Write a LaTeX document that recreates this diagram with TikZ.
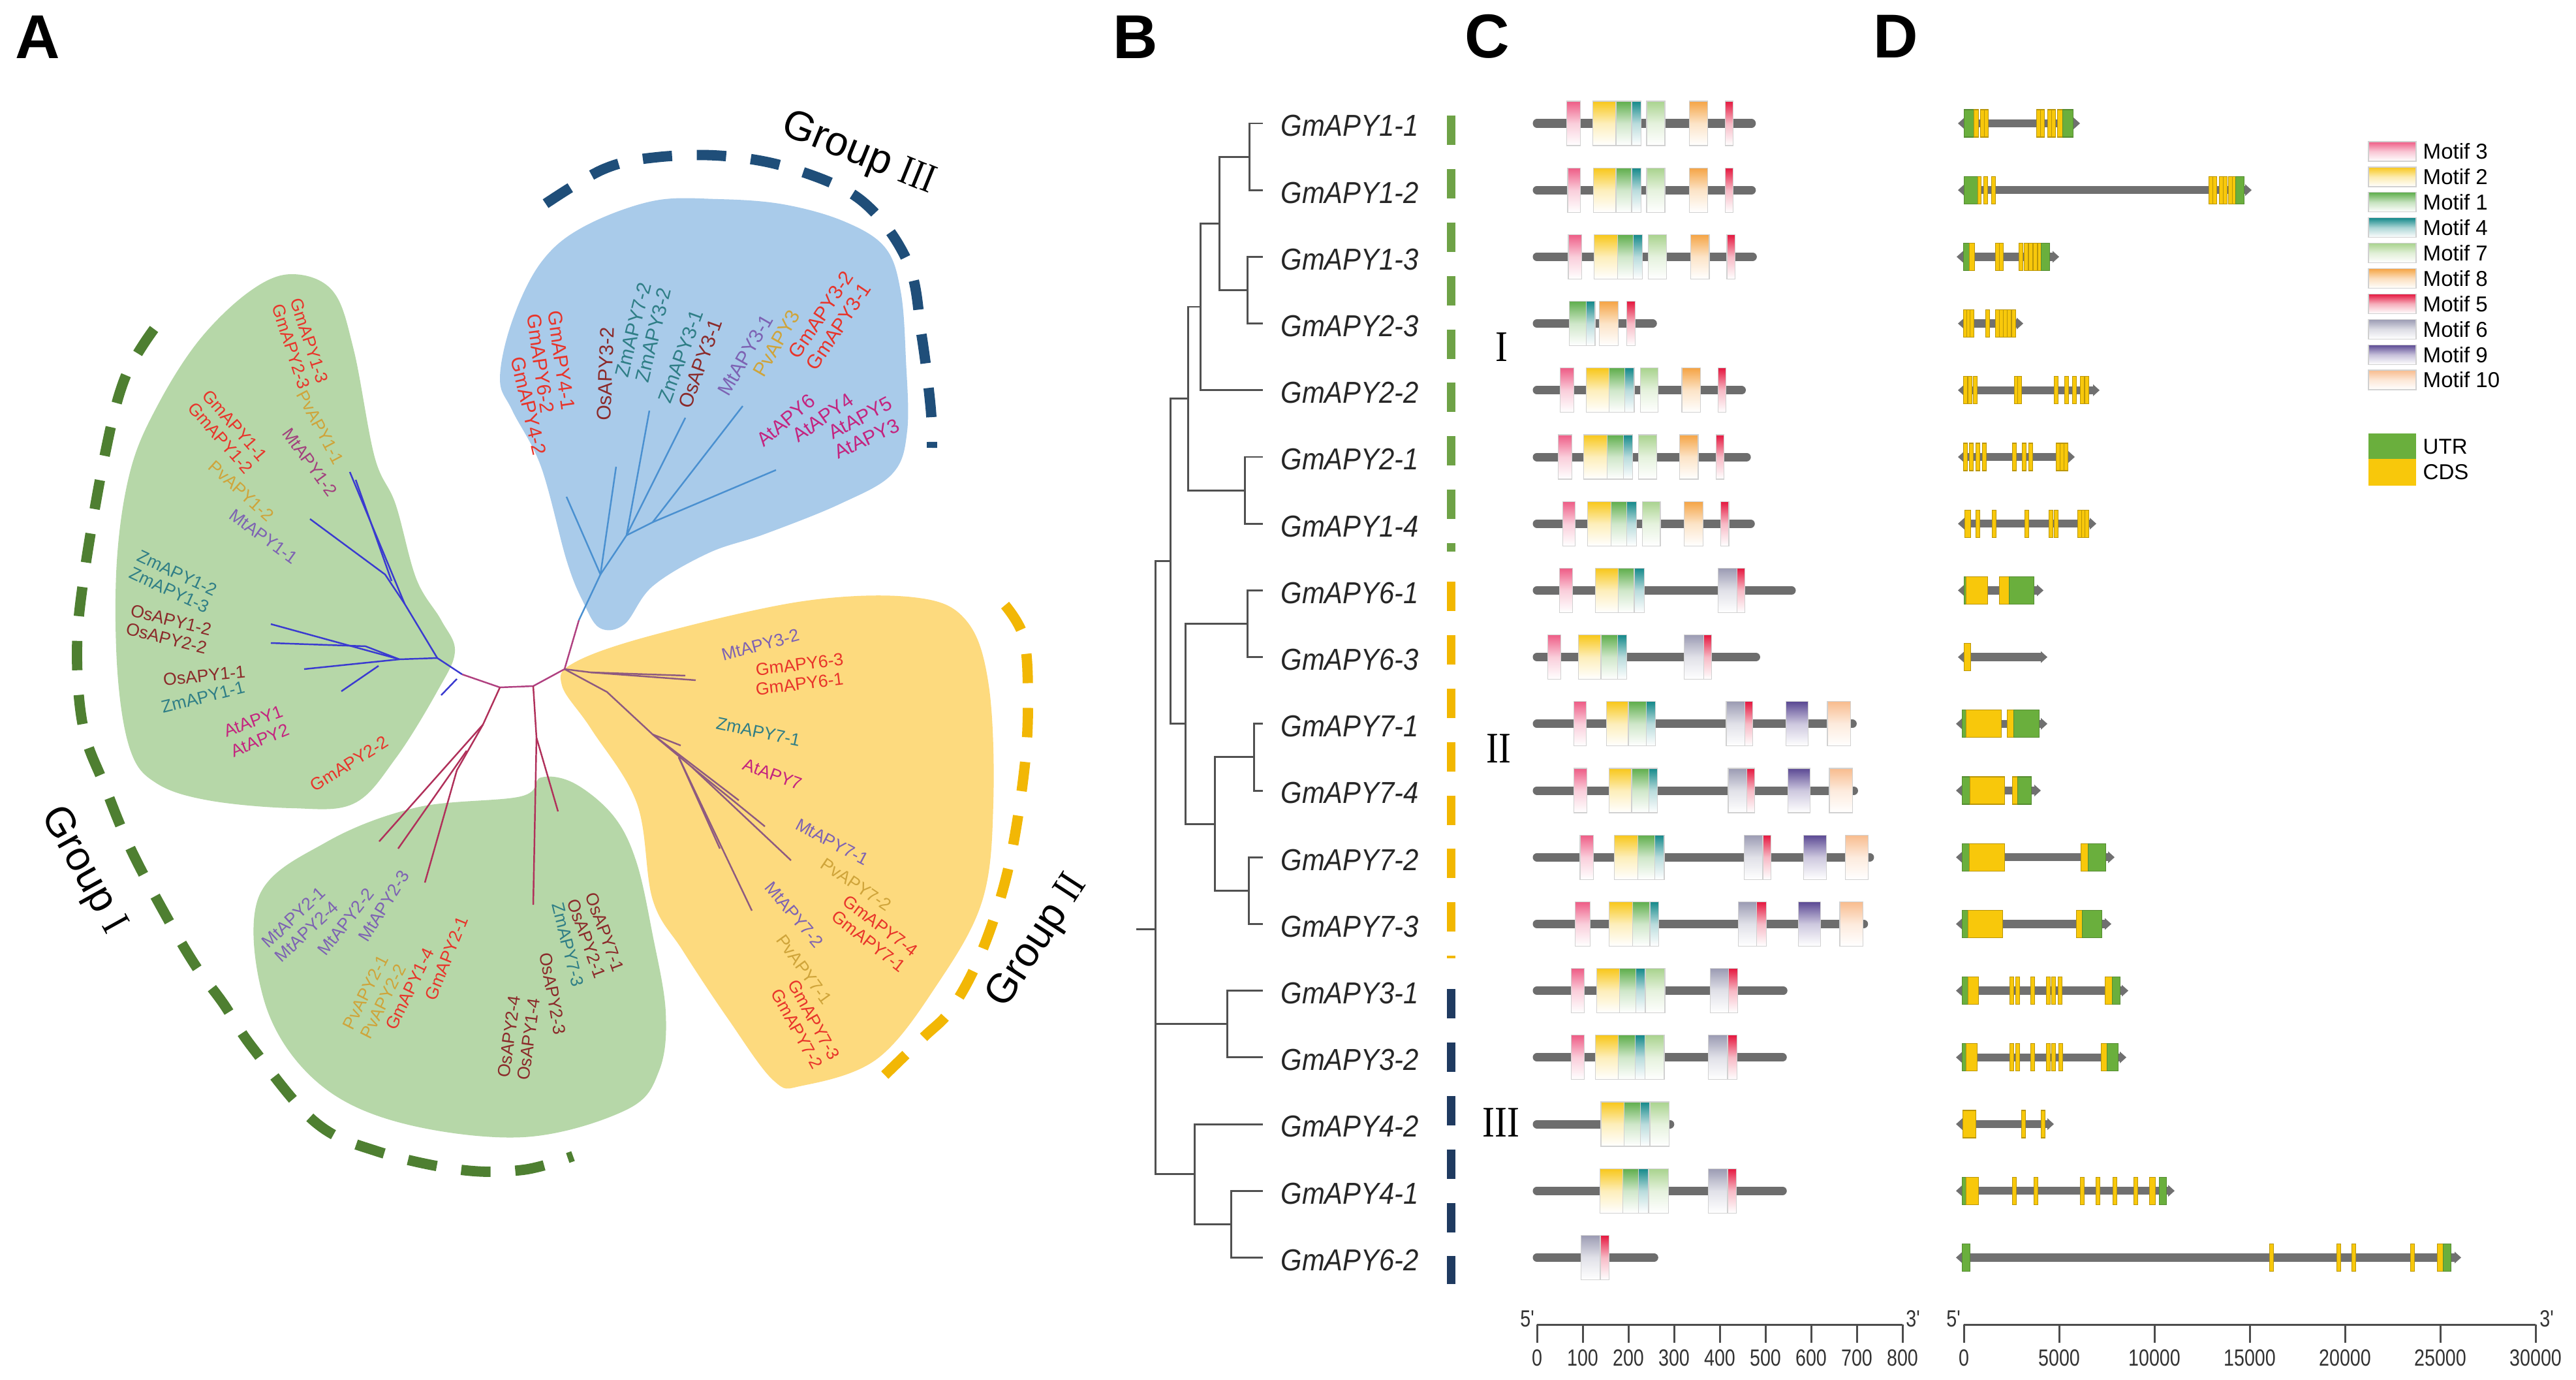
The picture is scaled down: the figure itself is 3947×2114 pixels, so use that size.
\documentclass[tikz,border=0pt]{standalone}
\usepackage{fontspec}
\setmainfont{Liberation Sans}
\newfontfamily\tfont[FakeStretch=0.9]{Liberation Sans}
\newfontfamily\axfont[FakeStretch=0.8]{Liberation Sans}
\newfontfamily\romfont[FakeStretch=0.85]{Liberation Serif}
\definecolor{blobG}{HTML}{B6D7A8}
\definecolor{blobB}{HTML}{A9CBEA}
\definecolor{blobY}{HTML}{FDDA7E}
\definecolor{arcG}{HTML}{4E7F31}
\definecolor{arcY}{HTML}{F2B705}
\definecolor{arcB}{HTML}{1F4E79}
\definecolor{cGm}{HTML}{E8342A}
\definecolor{cPv}{HTML}{CFA43A}
\definecolor{cMt}{HTML}{7D62B3}
\definecolor{cMtb}{HTML}{A2407E}
\definecolor{cZm}{HTML}{2F7E86}
\definecolor{cOs}{HTML}{8B2A2A}
\definecolor{cAt}{HTML}{C4247F}
\definecolor{brBlue}{HTML}{3A3AD0}
\definecolor{brRed}{HTML}{B0305A}
\definecolor{brMauve}{HTML}{8E5A80}
\definecolor{brSky}{HTML}{4A90D0}
\definecolor{brHub}{HTML}{B04080}
\definecolor{treeGray}{HTML}{505050}
\definecolor{barG}{HTML}{6EA246}
\definecolor{barY}{HTML}{F2B700}
\definecolor{barN}{HTML}{1F3A60}
\definecolor{protGray}{HTML}{6D6D6D}
\definecolor{geneGray}{HTML}{707070}
\definecolor{m3}{HTML}{EE5C86}
\definecolor{m2}{HTML}{F8C71A}
\definecolor{m1}{HTML}{5FAE4C}
\definecolor{m4}{HTML}{14898A}
\definecolor{m7}{HTML}{A9D38E}
\definecolor{m8}{HTML}{F5A445}
\definecolor{m5}{HTML}{E5173F}
\definecolor{m6}{HTML}{9B9BB3}
\definecolor{m9}{HTML}{5A4893}
\definecolor{m10}{HTML}{F8BC8E}
\definecolor{utrG}{HTML}{6AAF3D}
\definecolor{cdsY}{HTML}{F8C80B}
\newcommand\prot[2]{\draw[protline] (2355,{189+102.2*#1}) -- ({2300+0.5102*#2-6.5},{189+102.2*#1});}
\newcommand\mtf[4]{\path[mbox, top color=#4, bottom color=white, middle color=#4!30!white] ({2300+0.5102*#2},{189+102.2*#1-34}) rectangle ({2300+0.5102*#3},{189+102.2*#1+34});}
\newcommand\gene[3]{\draw[geneline] (#2,{189+102.2*#1}) -- (#3,{189+102.2*#1});
 \fill[geneGray] ({#2-9},{189+102.2*#1}) -- ({#2+1},{189+102.2*#1-9}) -- ({#2+1},{189+102.2*#1+9}) -- cycle;
 \fill[geneGray] ({#3+9},{189+102.2*#1}) -- ({#3-1},{189+102.2*#1-9}) -- ({#3-1},{189+102.2*#1+9}) -- cycle;}
\newcommand\utr[3]{\path[fill=utrG, draw=utrG!80!black, line width=0.3pt] (#2,{189+102.2*#1-21}) rectangle (#3,{189+102.2*#1+21});}
\newcommand\cds[3]{\path[fill=cdsY, draw=cdsY!75!black, line width=0.3pt] (#2,{189+102.2*#1-21}) rectangle (#3,{189+102.2*#1+21});}
\newcommand\thn[2]{\cds{#1}{#2-3}{#2+3}}
\begin{document}
\begin{tikzpicture}[x=0.1mm,y=-0.1mm,
  treeline/.style={draw=treeGray, line width=0.85pt},
  blab/.style={font=\tfont\itshape\fontsize{13.2}{14}\selectfont, text=black!85, inner sep=0pt, anchor=west},
  alab/.style={font=\fontsize{7.6}{8}\selectfont, inner sep=0pt},
  alabb/.style={font=\fontsize{8.6}{9}\selectfont, inner sep=0pt},
  panel/.style={font=\bfseries\fontsize{27}{30}\selectfont, inner sep=0pt},
  grp/.style={font=\fontsize{18}{20}\selectfont, inner sep=0pt},
  protline/.style={draw=protGray, line width=3.7pt, line cap=round},
  mbox/.style={draw=black!18, line width=0.35pt},
  geneline/.style={draw=geneGray, line width=3.5pt},
  arcline/.style={line width=4.5pt, dash pattern=on 12.8pt off 10.8pt},
  axisline/.style={draw=black!70, line width=0.85pt},
  axlab/.style={font=\axfont\fontsize{10.2}{11}\selectfont, text=black!80, inner sep=0pt},
  leglab/.style={font=\fontsize{9.4}{10}\selectfont, anchor=west, inner sep=0pt},
  roman/.style={font=\romfont\fontsize{19}{20}\selectfont, inner sep=0pt},
  br/.style={line width=0.7pt}]
\useasboundingbox (0,0) rectangle (3947,2114);
\fill[white] (0,0) rectangle (3947,2114);
% ---------------- panel letters
\node[panel] (pA) at (58,57) {A};
\node[panel] (pB) at (1740,57) {B};
\node[panel] (pC) at (2279,56) {C};
\node[panel] (pD) at (2905,56) {D};
% ---------------- panel A blobs
\fill[blobG] plot[smooth cycle, tension=0.6] coordinates {(447,420) (510,446) (542,536) (574,700) (606,772) (638,887) (676,950) (697,998) (670,1059) (606,1162) (542,1231) (447,1238) (319,1226) (240,1200) (200,1150) (180,1030) (179,860) (200,720) (242,620) (306,520) (383,446)};
\fill[blobB] plot[smooth cycle, tension=0.6] coordinates {(766,580) (785,491) (829,402) (893,348) (1000,308) (1100,305) (1200,313) (1293,339) (1356,379) (1380,446) (1388,550) (1390,660) (1367,726) (1287,772) (1172,818) (1086,847) (1000,898) (957,956) (919,962) (893,921) (868,858) (829,715) (785,629)};
\fill[blobY] plot[smooth cycle, tension=0.6] coordinates {(880,1015) (1000,973) (1230,921) (1400,915) (1480,950) (1515,1050) (1522,1230) (1505,1380) (1436,1508) (1344,1622) (1230,1663) (1185,1655) (1115,1560) (1046,1456) (1000,1378) (976,1231) (906,1117) (861,1050)};
\fill[blobG] plot[smooth cycle, tension=0.6] coordinates {(396,1375) (500,1290) (638,1237) (798,1220) (829,1191) (880,1200) (940,1250) (975,1320) (1000,1432) (1020,1550) (1010,1640) (960,1700) (802,1742) (610,1719) (483,1655) (406,1537)};
% ---------------- dashed arcs
\draw[arcline, arcG] plot[smooth, tension=0.6] coordinates {(236,504) (191,580) (160,700) (128,887) (118,1002) (128,1117) (160,1203) (200,1300) (255,1404) (300,1480) (342,1537) (387,1605) (483,1719) (579,1764) (706,1792) (802,1792) (878,1771)};
\draw[arcline, arcY] plot[smooth, tension=0.6] coordinates {(1540,927) (1568,975) (1575,1059) (1570,1174) (1545,1330) (1505,1456) (1459,1544) (1413,1591) (1339,1663)};
\draw[arcline, arcB] plot[smooth, tension=0.6] coordinates {(836,312) (925,259) (1005,241) (1110,239) (1216,259) (1321,308) (1391,402) (1412,513) (1426,625) (1428,686)};
% ---------------- branches
\draw[br, brHub] (708,1033) -- (766,1053) -- (817,1051) -- (865,1025) -- (887,950);
\draw[br, brBlue] (708,1033) -- (670,1008) -- (620,925) -- (536,723);
\draw[br, brBlue] (620,925) -- (590,880) -- (475,795);
\draw[br, brBlue] (600,890) -- (545,735);
\draw[br, brBlue] (670,1008) -- (612,1010) -- (415,956);
\draw[br, brBlue] (612,1010) -- (560,990) -- (415,985);
\draw[br, brBlue] (612,1010) -- (466,1025);
\draw[br, brBlue] (580,1020) -- (523,1059);
\draw[br, brBlue] (700,1040) -- (676,1065);
\draw[br, brRed] (766,1053) -- (740,1110) -- (581,1289);
\draw[br, brRed] (740,1110) -- (700,1180) -- (651,1352);
\draw[br, brRed] (715,1150) -- (610,1300);
\draw[br, brRed] (817,1051) -- (822,1130) -- (817,1386);
\draw[br, brRed] (822,1130) -- (855,1243);
\draw[br, brMauve] (865,1025) -- (905,1030) -- (1066,1042);
\draw[br, brMauve] (905,1030) -- (1050,1035);
\draw[br, brMauve] (865,1025) -- (930,1060) -- (1000,1125);
\draw[br, brMauve] (1000,1125) -- (1043,1142);
\draw[br, brMauve] (1000,1125) -- (1132,1226);
\draw[br, brMauve] (1000,1125) -- (1060,1175) -- (1212,1318);
\draw[br, brMauve] (1060,1175) -- (1172,1266);
\draw[br, brMauve] (1040,1160) -- (1152,1395);
\draw[br, brMauve] (1040,1160) -- (1103,1300);
\draw[br, brSky] (887,950) -- (920,880) -- (944,715);
\draw[br, brSky] (920,880) -- (868,761);
\draw[br, brSky] (920,880) -- (960,820) -- (995,629);
\draw[br, brSky] (960,820) -- (1000,800) -- (1189,720);
\draw[br, brSky] (1000,800) -- (1138,622);
\draw[br, brSky] (960,820) -- (1050,640);
% ---------------- panel A labels
\node[alab, cGm, rotate=-72] (a01) at (474,522) {GmAPY1-3};
\node[alab, cGm, rotate=-72] (a02) at (446,531) {GmAPY2-3};
\node[alab, cPv, rotate=-62] (a03) at (491,655) {PvAPY1-1};
\node[alab, cMtb, rotate=-54] (a04) at (475,708) {MtAPY1-2};
\node[alab, cGm, rotate=-49] (a05) at (360,652) {GmAPY1-1};
\node[alab, cGm, rotate=-49] (a06) at (338,671) {GmAPY1-2};
\node[alab, cPv, rotate=-42] (a07) at (370,752) {PvAPY1-2};
\node[alab, cMt, rotate=-36] (a08) at (404,822) {MtAPY1-1};
\node[alab, cZm, rotate=-25] (a09) at (272,878) {ZmAPY1-2};
\node[alab, cZm, rotate=-25] (a10) at (260,904) {ZmAPY1-3};
\node[alab, cOs, rotate=-14] (a11) at (262,950) {OsAPY1-2};
\node[alab, cOs, rotate=-14] (a12) at (255,978) {OsAPY2-2};
\node[alab, cOs, rotate=6] (a13) at (313,1035) {OsAPY1-1};
\node[alab, cZm, rotate=14] (a14) at (311,1068) {ZmAPY1-1};
\node[alab, cAt, rotate=20] (a15) at (388,1105) {AtAPY1};
\node[alab, cAt, rotate=22] (a16) at (398,1134) {AtAPY2};
\node[alab, cGm, rotate=32] (a17) at (535,1170) {GmAPY2-2};
\node[alab, cMt, rotate=43] (a18) at (450,1405) {MtAPY2-1};
\node[alab, cMt, rotate=43] (a19) at (470,1427) {MtAPY2-4};
\node[alab, cMt, rotate=52] (a20) at (530,1412) {MtAPY2-2};
\node[alab, cMt, rotate=58] (a21) at (588,1388) {MtAPY2-3};
\node[alab, cPv, rotate=63] (a22) at (560,1520) {PvAPY2-1};
\node[alab, cPv, rotate=63] (a23) at (587,1534) {PvAPY2-2};
\node[alab, cGm, rotate=64] (a24) at (628,1515) {GmAPY1-4};
\node[alab, cGm, rotate=68] (a25) at (684,1468) {GmAPY2-1};
\node[alab, cOs, rotate=-70] (a26) at (927,1428) {OsAPY7-1};
\node[alab, cOs, rotate=-70] (a27) at (899,1438) {OsAPY2-1};
\node[alab, cZm, rotate=-76] (a28) at (870,1447) {ZmAPY7-3};
\node[alab, cOs, rotate=-80] (a29) at (847,1522) {OsAPY2-3};
\node[alab, cOs, rotate=82] (a30) at (780,1588) {OsAPY2-4};
\node[alab, cOs, rotate=82] (a31) at (810,1592) {OsAPY1-4};
\node[alab, cMt, rotate=15] (a32) at (1165,988) {MtAPY3-2};
\node[alab, cGm, rotate=7] (a33) at (1225,1018) {GmAPY6-3};
\node[alab, cGm, rotate=7] (a34) at (1225,1048) {GmAPY6-1};
\node[alab, cZm, rotate=-12] (a35) at (1162,1121) {ZmAPY7-1};
\node[alab, cAt, rotate=-20] (a36) at (1184,1186) {AtAPY7};
\node[alab, cMt, rotate=-28] (a37) at (1275,1290) {MtAPY7-1};
\node[alab, cPv, rotate=-34] (a38) at (1312,1355) {PvAPY7-2};
\node[alab, cGm, rotate=-37] (a39) at (1349,1418) {GmAPY7-4};
\node[alab, cGm, rotate=-38] (a40) at (1331,1442) {GmAPY7-1};
\node[alab, cMt, rotate=-50] (a41) at (1217,1401) {MtAPY7-2};
\node[alab, cPv, rotate=-54] (a42) at (1232,1485) {PvAPY7-1};
\node[alab, cGm, rotate=-61] (a43) at (1247,1562) {GmAPY7-3};
\node[alab, cGm, rotate=-61] (a44) at (1221,1576) {GmAPY7-2};
\node[alabb, cGm, rotate=-82] (a45) at (860,552) {GmAPY4-1};
\node[alabb, cGm, rotate=-82] (a46) at (828,557) {GmAPY6-2};
\node[alabb, cGm, rotate=-77] (a47) at (810,622) {GmAPY4-2};
\node[alabb, cOs, rotate=88] (a48) at (928,573) {OsAPY3-2};
\node[alabb, cZm, rotate=76] (a49) at (970,505) {ZmAPY7-2};
\node[alabb, cZm, rotate=76] (a50) at (1001,513) {ZmAPY3-2};
\node[alabb, cZm, rotate=70] (a51) at (1043,546) {ZmAPY3-1};
\node[alabb, cOs, rotate=70] (a52) at (1073,557) {OsAPY3-1};
\node[alabb, cMt, rotate=60] (a53) at (1142,544) {MtAPY3-1};
\node[alabb, cPv, rotate=60] (a54) at (1190,526) {PvAPY3};
\node[alabb, cGm, rotate=56] (a55) at (1258,482) {GmAPY3-2};
\node[alabb, cGm, rotate=56] (a56) at (1285,500) {GmAPY3-1};
\node[alabb, cAt, rotate=40] (a57) at (1204,644) {AtAPY6};
\node[alabb, cAt, rotate=35] (a58) at (1261,640) {AtAPY4};
\node[alabb, cAt, rotate=28] (a59) at (1318,640) {AtAPY5};
\node[alabb, cAt, rotate=25] (a60) at (1328,672) {AtAPY3};
% group labels
\node[grp, rotate=-22] (g3) at (1315,236) {Group {\romfont III}};
\node[grp, rotate=-61] (g1) at (127,1333) {Group {\romfont I}};
\node[grp, rotate=57] (g2) at (1590,1442) {Group {\romfont II}};
% ---------------- panel B tree
\foreach \i/\nm in {0/GmAPY1-1,1/GmAPY1-2,2/GmAPY1-3,3/GmAPY2-3,4/GmAPY2-2,5/GmAPY2-1,6/GmAPY1-4,7/GmAPY6-1,8/GmAPY6-3,9/GmAPY7-1,10/GmAPY7-4,11/GmAPY7-2,12/GmAPY7-3,13/GmAPY3-1,14/GmAPY3-2,15/GmAPY4-2,16/GmAPY4-1,17/GmAPY6-2}{
  \coordinate (t\i) at (1935,{189+102.2*\i});
  \node[blab] (lb\i) at (1962,{193+102.2*\i}) {\nm};
}
\coordinate (n01) at (1914,240.1);
\coordinate (n23) at (1911,444.5);
\coordinate (nA) at (1868,342.3);
\coordinate (nB) at (1839,470);
\coordinate (n56) at (1907,751.1);
\coordinate (nC) at (1820,610.6);
\coordinate (n78) at (1911,955.5);
\coordinate (n910) at (1921,1159.9);
\coordinate (n1112) at (1913,1364.3);
\coordinate (nG) at (1861,1262.1);
\coordinate (nF) at (1816,1108.8);
\coordinate (nD) at (1793,859.7);
\coordinate (n1314) at (1880,1568.7);
\coordinate (n1617) at (1886,1875.3);
\coordinate (nH) at (1830,1798.7);
\coordinate (root) at (1770,1423);
\coordinate (rootstub) at (1741,1423);
\draw[treeline] (t0) -| (n01) |- (t1);
\draw[treeline] (t2) -| (n23) |- (t3);
\draw[treeline] (n01) -| (nA) |- (n23);
\draw[treeline] (nA) -| (nB) |- (t4);
\draw[treeline] (t5) -| (n56) |- (t6);
\draw[treeline] (nB) -| (nC) |- (n56);
\draw[treeline] (t7) -| (n78) |- (t8);
\draw[treeline] (t9) -| (n910) |- (t10);
\draw[treeline] (t11) -| (n1112) |- (t12);
\draw[treeline] (n910) -| (nG) |- (n1112);
\draw[treeline] (n78) -| (nF) |- (nG);
\draw[treeline] (nC) -| (nD) |- (nF);
\draw[treeline] (t13) -| (n1314) |- (t14);
\draw[treeline] (t16) -| (n1617) |- (t17);
\draw[treeline] (t15) -| (nH) |- (n1617);
\draw[treeline] (nD) -| (root) |- (nH);
\draw[treeline] (n1314) -- (root |- n1314);
\draw[treeline] (root) -- (rootstub);
% group bars
\draw[barG, line width=3.7pt, dash pattern=on 12.8pt off 10.5pt] (2223,177) -- (2223,845);
\draw[barY, line width=3.7pt, dash pattern=on 12.8pt off 10.5pt] (2223,891) -- (2223,1468);
\draw[barN, line width=3.7pt, dash pattern=on 12.8pt off 10.5pt] (2223,1515) -- (2223,1967);
\node[roman] (rI) at (2301,532) {I};
\node[roman] (rII) at (2296,1147) {II};
\node[roman] (rIII) at (2300,1720) {III};
% ---------------- panel C motifs
\prot{0}{765}\mtf{0}{197}{238}{m3}\mtf{0}{275}{345}{m2}\mtf{0}{345}{392}{m1}\mtf{0}{392}{420}{m4}\mtf{0}{437}{492}{m7}\mtf{0}{565}{620}{m8}\mtf{0}{673}{697}{m5}
\prot{1}{765}\mtf{1}{200}{238}{m3}\mtf{1}{278}{345}{m2}\mtf{1}{345}{392}{m1}\mtf{1}{392}{420}{m4}\mtf{1}{437}{492}{m7}\mtf{1}{565}{620}{m8}\mtf{1}{673}{697}{m5}
\prot{2}{768}\mtf{2}{202}{242}{m3}\mtf{2}{280}{350}{m2}\mtf{2}{350}{397}{m1}\mtf{2}{397}{425}{m4}\mtf{2}{442}{497}{m7}\mtf{2}{570}{625}{m8}\mtf{2}{678}{702}{m5}
\prot{3}{468}\mtf{3}{205}{255}{m1}\mtf{3}{255}{282}{m4}\mtf{3}{295}{352}{m8}\mtf{3}{378}{403}{m5}
\prot{4}{735}\mtf{4}{178}{218}{m3}\mtf{4}{255}{325}{m2}\mtf{4}{325}{372}{m1}\mtf{4}{372}{400}{m4}\mtf{4}{418}{472}{m7}\mtf{4}{543}{598}{m8}\mtf{4}{652}{675}{m5}
\prot{5}{750}\mtf{5}{172}{212}{m3}\mtf{5}{248}{318}{m2}\mtf{5}{318}{367}{m1}\mtf{5}{367}{395}{m4}\mtf{5}{412}{467}{m7}\mtf{5}{536}{592}{m8}\mtf{5}{646}{670}{m5}
\prot{6}{762}\mtf{6}{185}{222}{m3}\mtf{6}{260}{330}{m2}\mtf{6}{330}{377}{m1}\mtf{6}{377}{407}{m4}\mtf{6}{424}{478}{m7}\mtf{6}{550}{606}{m8}\mtf{6}{660}{684}{m5}
\prot{7}{885}\mtf{7}{175}{215}{m3}\mtf{7}{283}{352}{m2}\mtf{7}{352}{400}{m1}\mtf{7}{400}{430}{m4}\mtf{7}{652}{708}{m6}\mtf{7}{708}{732}{m5}
\prot{8}{778}\mtf{8}{140}{180}{m3}\mtf{8}{232}{300}{m2}\mtf{8}{300}{350}{m1}\mtf{8}{350}{378}{m4}\mtf{8}{550}{608}{m6}\mtf{8}{608}{632}{m5}
\prot{9}{1068}\mtf{9}{218}{256}{m3}\mtf{9}{317}{382}{m2}\mtf{9}{382}{436}{m1}\mtf{9}{436}{464}{m4}\mtf{9}{676}{732}{m6}\mtf{9}{732}{756}{m5}\mtf{9}{855}{922}{m9}\mtf{9}{980}{1050}{m10}
\prot{10}{1072}\mtf{10}{218}{257}{m3}\mtf{10}{324}{392}{m2}\mtf{10}{392}{444}{m1}\mtf{10}{444}{470}{m4}\mtf{10}{682}{738}{m6}\mtf{10}{738}{762}{m5}\mtf{10}{862}{928}{m9}\mtf{10}{986}{1055}{m10}
\prot{11}{1120}\mtf{11}{237}{278}{m3}\mtf{11}{340}{410}{m2}\mtf{11}{410}{462}{m1}\mtf{11}{462}{490}{m4}\mtf{11}{730}{786}{m6}\mtf{11}{786}{810}{m5}\mtf{11}{908}{977}{m9}\mtf{11}{1034}{1103}{m10}
\prot{12}{1102}\mtf{12}{222}{267}{m3}\mtf{12}{325}{395}{m2}\mtf{12}{395}{447}{m1}\mtf{12}{447}{474}{m4}\mtf{12}{712}{768}{m6}\mtf{12}{768}{796}{m5}\mtf{12}{893}{960}{m9}\mtf{12}{1017}{1087}{m10}
\prot{13}{860}\mtf{13}{210}{250}{m3}\mtf{13}{287}{355}{m2}\mtf{13}{355}{405}{m1}\mtf{13}{405}{433}{m4}\mtf{13}{433}{492}{m7}\mtf{13}{628}{683}{m6}\mtf{13}{683}{710}{m5}
\prot{14}{858}\mtf{14}{210}{250}{m3}\mtf{14}{283}{352}{m2}\mtf{14}{352}{402}{m1}\mtf{14}{402}{432}{m4}\mtf{14}{432}{490}{m7}\mtf{14}{623}{680}{m6}\mtf{14}{680}{708}{m5}
\prot{15}{520}\mtf{15}{300}{370}{m2}\mtf{15}{370}{418}{m1}\mtf{15}{418}{447}{m4}\mtf{15}{447}{505}{m7}
\prot{16}{858}\mtf{16}{297}{365}{m2}\mtf{16}{365}{413}{m1}\mtf{16}{413}{443}{m4}\mtf{16}{443}{503}{m7}\mtf{16}{622}{680}{m6}\mtf{16}{680}{706}{m5}
\prot{17}{472}\mtf{17}{240}{298}{m6}\mtf{17}{298}{325}{m5}
% C axis
\draw[axisline] (2355,2029) -- (2915,2029);
\foreach \k/\t in {0/0,1/100,2/200,3/300,4/400,5/500,6/600,7/700,8/800}{
  \draw[axisline] ({2355+70*\k},2029) -- ({2355+70*\k},2057);
  \node[axlab] (cx\k) at ({2355+70*\k},2080) {\t};
}
\node[axlab] (c5) at (2340,2020) {5'};
\node[axlab] (c3) at (2931,2020) {3'};
% ---------------- panel D genes
\gene{0}{3009}{3178}\utr{0}{3009}{3024}\cds{0}{3024}{3031}\thn{0}{3037}\thn{0}{3043}\thn{0}{3123}\thn{0}{3129}\thn{0}{3140}\thn{0}{3146}\cds{0}{3152}{3160}\utr{0}{3160}{3176}
\gene{1}{3009}{3441}\utr{1}{3009}{3030}\cds{1}{3030}{3035}\thn{1}{3042}\thn{1}{3054}\thn{1}{3387}\thn{1}{3393}\thn{1}{3403}\thn{1}{3409}\thn{1}{3417}\cds{1}{3420}{3425}\utr{1}{3425}{3438}
\gene{2}{3007}{3146}\utr{2}{3008}{3017}\cds{2}{3017}{3025}\thn{2}{3060}\thn{2}{3066}\thn{2}{3096}\thn{2}{3104}\thn{2}{3111}\thn{2}{3118}\cds{2}{3122}{3127}\utr{2}{3127}{3140}
\gene{3}{3009}{3091}\thn{3}{3011}\thn{3}{3016}\thn{3}{3021}\thn{3}{3045}\thn{3}{3060}\thn{3}{3066}\thn{3}{3072}\thn{3}{3078}\thn{3}{3085}
\gene{4}{3009}{3208}\thn{4}{3011}\thn{4}{3018}\thn{4}{3026}\thn{4}{3089}\thn{4}{3094}\thn{4}{3150}\thn{4}{3166}\thn{4}{3178}\thn{4}{3190}\thn{4}{3197}
\gene{5}{3009}{3170}\thn{5}{3011}\thn{5}{3020}\thn{5}{3030}\thn{5}{3040}\thn{5}{3086}\thn{5}{3101}\thn{5}{3111}\thn{5}{3153}\thn{5}{3159}\thn{5}{3165}
\gene{6}{3009}{3203}\cds{6}{3010}{3019}\thn{6}{3030}\thn{6}{3055}\thn{6}{3105}\thn{6}{3142}\thn{6}{3150}\thn{6}{3186}\thn{6}{3192}\thn{6}{3197}
\gene{7}{3009}{3122}\utr{7}{3009}{3012}\cds{7}{3012}{3045}\cds{7}{3063}{3078}\utr{7}{3078}{3116}
\gene{8}{3009}{3128}\cds{8}{3009}{3019}
\gene{9}{3006}{3128}\utr{9}{3006}{3012}\cds{9}{3012}{3066}\cds{9}{3075}{3085}\utr{9}{3085}{3124}
\gene{10}{3006}{3118}\utr{10}{3006}{3018}\cds{10}{3018}{3071}\cds{10}{3083}{3091}\utr{10}{3091}{3112}
\gene{11}{3006}{3231}\utr{11}{3006}{3017}\cds{11}{3017}{3071}\cds{11}{3188}{3199}\utr{11}{3199}{3226}
\gene{12}{3006}{3226}\utr{12}{3006}{3015}\cds{12}{3015}{3068}\cds{12}{3181}{3190}\utr{12}{3190}{3220}
\gene{13}{3006}{3252}\utr{13}{3006}{3015}\cds{13}{3015}{3031}\thn{13}{3082}\thn{13}{3091}\thn{13}{3114}\thn{13}{3138}\thn{13}{3146}\thn{13}{3156}\cds{13}{3225}{3236}\utr{13}{3236}{3248}
\gene{14}{3006}{3249}\utr{14}{3006}{3012}\cds{14}{3012}{3029}\thn{14}{3082}\thn{14}{3091}\thn{14}{3114}\thn{14}{3138}\thn{14}{3146}\thn{14}{3157}\cds{14}{3219}{3228}\utr{14}{3228}{3245}
\gene{15}{3006}{3138}\cds{15}{3007}{3027}\thn{15}{3100}\thn{15}{3130}
\gene{16}{3006}{3323}\utr{16}{3006}{3012}\cds{16}{3012}{3031}\thn{16}{3086}\thn{16}{3119}\thn{16}{3190}\thn{16}{3214}\thn{16}{3240}\thn{16}{3272}\cds{16}{3293}{3302}\utr{16}{3308}{3319}
\gene{17}{3006}{3762}\utr{17}{3006}{3018}\thn{17}{3480}\thn{17}{3583}\thn{17}{3606}\thn{17}{3696}\cds{17}{3734}{3743}\utr{17}{3743}{3755}
% D axis
\draw[axisline] (3009,2029) -- (3885,2029);
\foreach \k/\t in {0/0,1/5000,2/10000,3/15000,4/20000,5/25000,6/30000}{
  \draw[axisline] ({3009+146*\k},2029) -- ({3009+146*\k},2057);
  \node[axlab] (dx\k) at ({3009+146*\k},2080) {\t};
}
\node[axlab] (d5) at (2993,2020) {5'};
\node[axlab] (d3) at (3902,2020) {3'};
% ---------------- legend
\foreach \k/\c/\t in {0/m3/Motif 3,1/m2/Motif 2,2/m1/Motif 1,3/m4/Motif 4,4/m7/Motif 7,5/m8/Motif 8,6/m5/Motif 5,7/m6/Motif 6,8/m9/Motif 9,9/m10/Motif 10}{
  \path[mbox, top color=\c, bottom color=white, middle color=\c!35!white] (3629,{232+38.9*\k-15}) rectangle (3702,{232+38.9*\k+15});
  \node[leglab] (leg\k) at (3712,{232+38.9*\k}) {\t};
}
\fill[utrG] (3629,664) rectangle (3702,703);
\fill[cdsY] (3629,703) rectangle (3702,744);
\node[leglab] (legU) at (3712,684) {UTR};
\node[leglab] (legC) at (3712,723) {CDS};
\end{tikzpicture}
\end{document}
